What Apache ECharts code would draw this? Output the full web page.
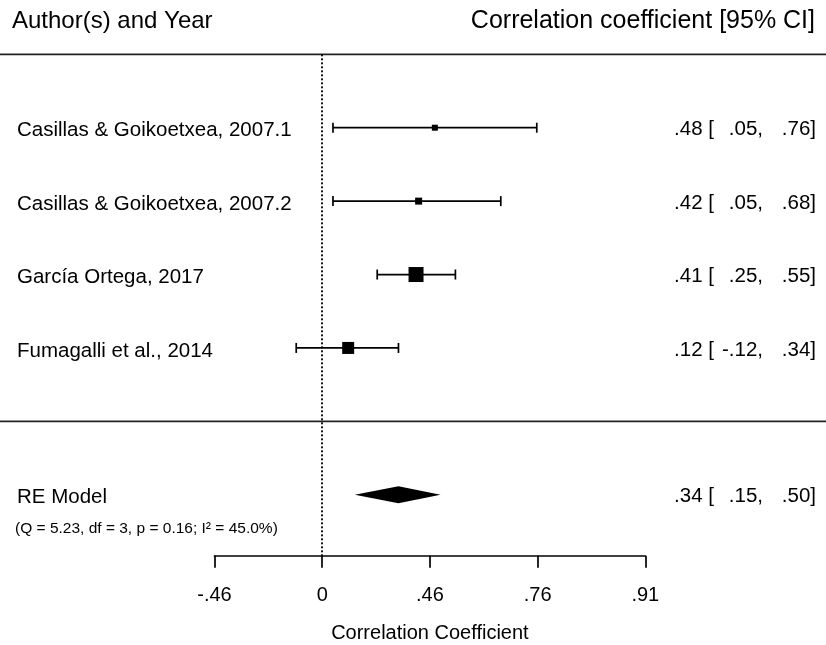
<!DOCTYPE html>
<html>
<head>
    <meta charset="utf-8">
    <title>Forest plot</title>
    <script src="https://cdn.jsdelivr.net/npm/echarts@6/dist/echarts.min.js"></script>
    <style>
        html, body { margin: 0; padding: 0; background: #fff; }
        #chart { width: 826px; height: 645px; }
    </style>
</head>
<body>
<div id="chart"></div>
<script type="text/javascript">
    // studies, top to bottom
    var studies = ['Casillas & Goikoetxea, 2007.1', 'Casillas & Goikoetxea, 2007.2', 'García Ortega, 2017', 'Fumagalli et al., 2014'];
    var estimate = [0.48, 0.42, 0.41, 0.12];
    var lower = [0.05, 0.05, 0.25, -0.12];
    var upper = [0.76, 0.68, 0.55, 0.34];
    var boxSize = [6, 7, 15, 12];   // weight boxes as seen (px)

    // random-effects summary
    var modelLabel = 'RE Model';
    var modelStats = '(Q = 5.23, df = 3, p = 0.16; I² = 45.0%)';
    var modelEstimate = [0.34];
    var modelLower = [0.15];
    var modelUpper = [0.50];

    // axis is on the Fisher z scale, labelled back as r
    var tickValues = [-0.5, 0, 0.5, 1, 1.5];
    var tickLabels = ['-.46', '0', '.46', '.76', '.91'];

    var FONT = '"Liberation Sans", Arial, sans-serif';
    var INK = '#000';

    function z(r) { return Math.atanh(r); }
    function fmt(r) { return r.toFixed(2).replace('0.', '.'); }

    function rowTexts(label, e, lo, hi, y) {
        var base = { fill: INK, fontSize: 20.5, fontFamily: FONT, verticalAlign: 'middle' };
        return [
            { type: 'text', style: Object.assign({ text: label, x: 17, y: y + 1, align: 'left' }, base) },
            { type: 'text', style: Object.assign({ text: fmt(e) + ' [', x: 714, y: y, align: 'right' }, base) },
            { type: 'text', style: Object.assign({ text: fmt(lo) + ',', x: 763, y: y, align: 'right' }, base) },
            { type: 'text', style: Object.assign({ text: fmt(hi) + ']', x: 816, y: y, align: 'right' }, base) }
        ];
    }

    var studyData = studies.map(function (s, i) {
        return [i + 1, z(estimate[i]), z(lower[i]), z(upper[i]), boxSize[i]];
    });
    var modelData = modelEstimate.map(function (e, i) {
        return [6, z(e), z(modelLower[i]), z(modelUpper[i])];
    });

    var myChart = echarts.init(document.getElementById('chart'));
    myChart.setOption({
        animation: false,
        grid: { left: 214.5, right: 180.7, top: 54.3, bottom: 89.3, containLabel: false, outerBoundsMode: 'none' },
        xAxis: {
            type: 'value',
            position: 'bottom',
            min: -0.5,
            max: 1.5,
            interval: 0.5,
            splitLine: { show: false },
            axisLine: { show: true, onZero: false, lineStyle: { color: INK, width: 1.7 } },
            axisTick: { show: true, length: 12, lineStyle: { color: INK, width: 1.7 } },
            axisLabel: {
                margin: 30,
                fontSize: 20,
                fontFamily: FONT,
                color: INK,
                formatter: function (v) {
                    var k = tickValues.indexOf(v);
                    return k >= 0 ? tickLabels[k] : '';
                }
            },
            name: 'Correlation Coefficient',
            nameLocation: 'middle',
            nameGap: 68,
            nameTextStyle: { fontSize: 20, fontFamily: FONT, color: INK }
        },
        yAxis: {
            type: 'value',
            inverse: true,
            min: 0,
            max: 6.83,
            show: false
        },
        graphic: [
            { type: 'text', x: 12, y: 21, style: { text: 'Author(s) and Year', fill: INK, fontSize: 24, fontFamily: FONT, align: 'left', verticalAlign: 'middle' } },
            { type: 'text', x: 815, y: 21, style: { text: 'Correlation coefficient [95% CI]', fill: INK, fontSize: 25, fontFamily: FONT, align: 'right', verticalAlign: 'middle' } }
        ],
        series: [
            {
                // separators above the studies and above the summary
                type: 'custom',
                silent: true,
                data: [[0], [5]],
                encode: { y: 0 },
                renderItem: function (params, api) {
                    var y = api.coord([0, api.value(0)])[1];
                    return {
                        type: 'line',
                        shape: { x1: 0, y1: y, x2: api.getWidth(), y2: y },
                        style: { stroke: '#222', lineWidth: 1.7 }
                    };
                },
                markLine: {
                    silent: true,
                    symbol: 'none',
                    label: { show: false },
                    lineStyle: { color: INK, type: [2, 2], width: 1.8 },
                    data: [{ xAxis: 0 }]
                }
            },
            {
                type: 'custom',
                silent: true,
                data: studyData,
                encode: { x: [1, 2, 3], y: 0 },
                renderItem: function (params, api) {
                    var row = api.value(0);
                    var pE = api.coord([api.value(1), row]);
                    var pL = api.coord([api.value(2), row]);
                    var pH = api.coord([api.value(3), row]);
                    var s = api.value(4);
                    var stroke = { stroke: INK, lineWidth: 1.7 };
                    var i = params.dataIndex;
                    return {
                        type: 'group',
                        children: [
                            { type: 'line', shape: { x1: pL[0], y1: pL[1], x2: pH[0], y2: pH[1] }, style: stroke },
                            { type: 'line', shape: { x1: pL[0], y1: pL[1] - 5, x2: pL[0], y2: pL[1] + 5 }, style: stroke },
                            { type: 'line', shape: { x1: pH[0], y1: pH[1] - 5, x2: pH[0], y2: pH[1] + 5 }, style: stroke },
                            { type: 'rect', shape: { x: pE[0] - s / 2, y: pE[1] - s / 2, width: s, height: s }, style: { fill: '#000' } }
                        ].concat(rowTexts(studies[i], estimate[i], lower[i], upper[i], pE[1] + 2))
                    };
                }
            },
            {
                type: 'custom',
                silent: true,
                data: modelData,
                encode: { x: [1, 2, 3], y: 0 },
                renderItem: function (params, api) {
                    var row = api.value(0);
                    var pE = api.coord([api.value(1), row]);
                    var pL = api.coord([api.value(2), row]);
                    var pH = api.coord([api.value(3), row]);
                    var h = 8.5;
                    var i = params.dataIndex;
                    return {
                        type: 'group',
                        children: [
                            {
                                type: 'polygon',
                                shape: { points: [[pL[0], pL[1]], [pE[0], pE[1] - h], [pH[0], pH[1]], [pE[0], pE[1] + h]] },
                                style: { fill: '#000' }
                            },
                            { type: 'text', style: { text: modelStats, x: 15, y: pE[1] + 34, align: 'left', verticalAlign: 'middle', fill: INK, fontSize: 15.5, fontFamily: FONT } }
                        ].concat(rowTexts(modelLabel, modelEstimate[i], modelLower[i], modelUpper[i], pE[1] + 2))
                    };
                }
            }
        ]
    });
</script>
</body>
</html>
